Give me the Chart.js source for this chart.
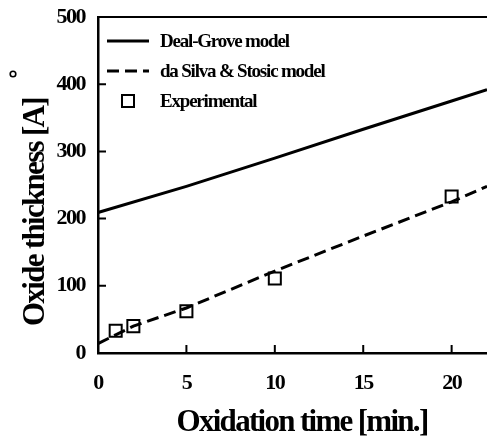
<!DOCTYPE html>
<html>
<head>
<meta charset="utf-8">
<title>Oxide thickness vs oxidation time</title>
<script src="https://cdn.jsdelivr.net/npm/chart.js@4/dist/chart.umd.min.js"></script>
<style>
  html, body { margin: 0; padding: 0; background: #fff; }
  #wrap { width: 487px; height: 440px; }
</style>
</head>
<body>
<div id="wrap"><canvas id="chart" width="487" height="440"></canvas></div>
<script>
(() => {
  'use strict';

  // ── Data ────────────────────────────────────────────────────────────────────

  const DEAL_GROVE_T = [0, 5, 10, 15, 20, 22];
  const DEAL_GROVE_D = [209, 248, 290, 333, 375, 392];

  const DA_SILVA_T = [0, 1, 2, 5, 10, 15, 20, 22];
  const DA_SILVA_D = [14, 27, 40, 67, 122, 174, 225, 248];

  const EXP_T = [1, 2, 5, 10, 20];
  const EXP_D = [33, 40, 62, 111, 233];

  const X_TICKS = [0, 5, 10, 15, 20];
  const Y_TICKS = [0, 100, 200, 300, 400, 500];

  const SERIES_LABELS = ['Deal-Grove model', 'da Silva & Stosic model', 'Experimental'];
  const X_TITLE = 'Oxidation time [min.]';
  const Y_TITLE = 'Oxide thickness [A]';

  const FONT = '"Liberation Serif", "Times New Roman", serif';
  const INK = '#000';

  const toPoints = (xs, ys) => xs.map((x, i) => ({ x, y: ys[i] }));

  // ── Plugins ─────────────────────────────────────────────────────────────────

  // tight tracking like the scanned figure
  const tracking = {
    id: 'tracking',
    beforeUpdate(chart) { chart.ctx.letterSpacing = '-1.5px'; },
    beforeDraw(chart)   { chart.ctx.letterSpacing = '-1.5px'; },
  };

  // inward ticks, top frame line, axis titles, legend
  const decorations = {
    id: 'decorations',
    afterDraw(chart) {
      const { ctx, chartArea: a, scales: { x, y } } = chart;
      ctx.save();
      ctx.strokeStyle = INK;
      ctx.fillStyle = INK;

      // top frame
      ctx.lineWidth = 2;
      ctx.beginPath();
      ctx.moveTo(a.left, a.top);
      ctx.lineTo(a.right, a.top);
      ctx.stroke();

      // inward tick marks
      ctx.lineWidth = 2;
      ctx.beginPath();
      X_TICKS.forEach(v => {
        const px = x.getPixelForValue(v);
        ctx.moveTo(px, a.bottom);
        ctx.lineTo(px, a.bottom - 8);
      });
      Y_TICKS.forEach(v => {
        const py = y.getPixelForValue(v);
        ctx.moveTo(a.left, py);
        ctx.lineTo(a.left + 8, py);
      });
      ctx.stroke();

      // axis titles
      ctx.letterSpacing = '-1.7px';
      ctx.font = `bold 31px ${FONT}`;
      ctx.textAlign = 'center';
      ctx.textBaseline = 'alphabetic';
      ctx.fillText(X_TITLE, 302, 431);

      ctx.save();
      ctx.translate(44, 212);
      ctx.rotate(-Math.PI / 2);
      ctx.fillText(Y_TITLE, 0, 0);
      ctx.restore();

      // the angstrom ring, displaced as in the scan
      ctx.lineWidth = 1.6;
      ctx.beginPath();
      ctx.arc(13, 74, 2.8, 0, Math.PI * 2);
      ctx.stroke();

      // legend
      ctx.letterSpacing = '-1.2px';
      ctx.font = `bold 19px ${FONT}`;
      ctx.textAlign = 'left';
      ctx.textBaseline = 'middle';
      const rows = [41, 71, 101];
      chart.data.datasets.forEach((ds, i) => {
        const cy = rows[i];
        if (ds.showLine === false) {
          ctx.lineWidth = 2;
          ctx.setLineDash([]);
          ctx.strokeRect(122, cy - 6, 12, 12);
        } else {
          ctx.lineWidth = ds.borderWidth;
          ctx.setLineDash(ds.borderDash || []);
          ctx.beginPath();
          ctx.moveTo(107, cy);
          ctx.lineTo(149, cy);
          ctx.stroke();
        }
        ctx.setLineDash([]);
        ctx.fillText(ds.label, 160, cy + 1);
      });

      ctx.restore();
    },
  };

  // ── Chart ───────────────────────────────────────────────────────────────────

  function buildChart() {
    const ctx = document.getElementById('chart').getContext('2d');

    new Chart(ctx, {
      type: 'line',
      data: {
        datasets: [
          {
            label: SERIES_LABELS[0],
            data: toPoints(DEAL_GROVE_T, DEAL_GROVE_D),
            borderColor: INK,
            borderWidth: 3,
            pointRadius: 0,
            tension: 0,
          },
          {
            label: SERIES_LABELS[1],
            data: toPoints(DA_SILVA_T, DA_SILVA_D),
            borderColor: INK,
            borderWidth: 3,
            borderDash: [12, 6],
            pointRadius: 0,
            tension: 0,
          },
          {
            label: SERIES_LABELS[2],
            data: toPoints(EXP_T, EXP_D),
            showLine: false,
            pointStyle: 'rect',
            pointRadius: 8.5,
            pointBorderWidth: 2,
            pointBorderColor: INK,
            pointBackgroundColor: 'rgba(0,0,0,0)',
          },
        ],
      },
      options: {
        responsive: false,
        animation: false,
        clip: false,
        layout: {
          autoPadding: false,
          padding: { left: 0, top: 17, right: 0, bottom: 0 },
        },
        plugins: {
          legend: { display: false },
          tooltip: { enabled: false },
        },
        scales: {
          x: {
            type: 'linear',
            min: 0,
            max: 22,
            afterFit: s => {
              s.height = 87;
              s.paddingLeft = 0;
              s.paddingRight = 0;
            },
            grid: { drawOnChartArea: false, drawTicks: false },
            border: { color: INK, width: 2.5 },
            ticks: {
              stepSize: 5,
              includeBounds: false,
              padding: 17,
              color: INK,
              font: { family: FONT, size: 22, weight: 'bold' },
            },
          },
          y: {
            min: 0,
            max: 500,
            afterFit: s => {
              s.width = 98;
              s.paddingTop = 0;
              s.paddingBottom = 0;
            },
            grid: { drawOnChartArea: false, drawTicks: false },
            border: { color: INK, width: 2.5 },
            ticks: {
              stepSize: 100,
              padding: 13,
              color: INK,
              font: { family: FONT, size: 22, weight: 'bold' },
            },
          },
        },
      },
      plugins: [tracking, decorations],
    });
  }

  document.addEventListener('DOMContentLoaded', buildChart);
})();
</script>
</body>
</html>
